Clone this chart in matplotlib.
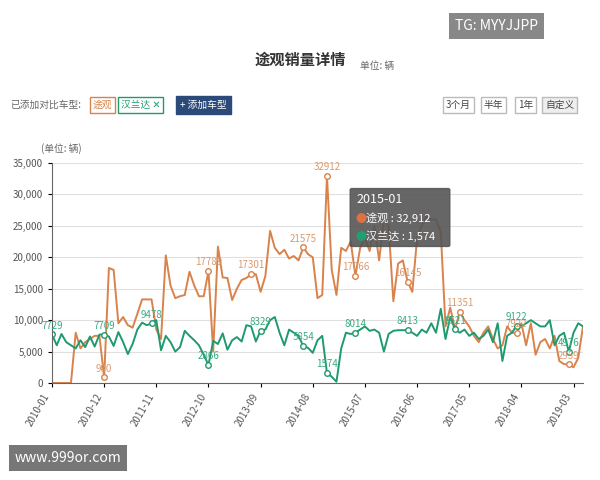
import matplotlib
matplotlib.use("Agg")
import matplotlib.pyplot as plt
import matplotlib.patches as mp
import numpy as np
import pandas as pd

plt.rcParams['font.family'] = ['Noto Sans CJK SC', 'DejaVu Sans']

tiguan = [0, 0, 0, 0, 0, 8000, 5500, 6500, 7000, 7500, 7500, 900,
          18300, 18000, 9500, 10500, 9200, 8800, 11000, 13300, 13300, 13300, 8500, 7000,
          20300, 15500, 13500, 13800, 14000, 17700, 15500, 13800, 13800, 17789, 5000, 21700,
          16800, 16700, 13200, 15000, 16400, 16700, 17301, 17300, 14500, 17000, 24200, 21500,
          20500, 21200, 19800, 20200, 19500, 21575, 20500, 20000, 13500, 14000, 32912, 18000,
          14000, 21500, 21000, 22500, 17066, 21500, 23000, 21000, 25000, 19500, 26000, 25000,
          13000, 19000, 19500, 16145, 14500, 23000, 25000, 26500, 26000, 26000, 24000, 9000,
          12000, 8500, 11351, 10000, 9000, 7500, 6500, 8000, 9000, 7000, 5500, 6000,
          9000, 8000, 7922, 9500, 6000, 9500, 4500, 6500, 7000, 5500, 7500, 3500,
          3000, 2959, 2500, 4000, 9000]
teramont = [7729, 6000, 7800, 6500, 6000, 5500, 6800, 5700, 7400, 5800, 7700, 7709,
            7400, 5900, 8100, 6500, 4600, 6200, 8500, 9600, 9200, 9478, 10000, 5200,
            7500, 6500, 5000, 5700, 8300, 7500, 6800, 6000, 4500, 2866, 6700, 6200,
            7900, 5300, 6800, 7300, 6600, 9200, 9000, 6600, 8329, 8500, 10000, 10500,
            8000, 6000, 8500, 8000, 7500, 5854, 5600, 4800, 6800, 7500, 1574, 1000,
            200, 5500, 8000, 7800, 8014, 8500, 9000, 8300, 8500, 8000, 5000, 7800,
            8300, 8400, 8400, 8413, 8000, 7500, 8500, 8000, 9500, 8000, 11800, 7000,
            10500, 8521, 8000, 8500, 7500, 8000, 7000, 7500, 8500, 6500, 9500, 3500,
            7500, 8000, 9122, 9000, 9500, 10000, 9500, 9000, 9000, 10000, 6000, 7500,
            8000, 4976, 8000, 9500, 9000]
n = min(len(tiguan), len(teramont))
tiguan, teramont = tiguan[:n], teramont[:n]
dates = pd.date_range("2010-01", periods=n, freq="MS")
tick_labels = ["2010-01", "2010-12", "2011-11", "2012-10", "2013-09", "2014-08",
               "2015-07", "2016-06", "2017-05", "2018-04", "2019-03"]
orange_labels = [11, 33, 42, 53, 58, 64, 75, 86, 98, 109]
green_labels = [0, 11, 21, 33, 44, 53, 58, 64, 75, 85, 98, 109]

OR = "#d9824a"
GR = "#1f9a6e"
fig = plt.figure(figsize=(6, 4.8), dpi=100)
ax = fig.add_axes([52/600, 1-383/480, 531/600, 220/480])
x = np.arange(n)
ax.plot(x, tiguan, color=OR, lw=1.4)
ax.plot(x, teramont, color=GR, lw=1.4)
for i in orange_labels:
    ax.plot(i, tiguan[i], 'o', mfc='white', mec=OR, ms=4)
    ax.text(i, tiguan[i] + 600, str(tiguan[i]), color="#d99a70", fontsize=7, ha='center', va='bottom')
for i in green_labels:
    ax.plot(i, teramont[i], 'o', mfc='white', mec=GR, ms=4)
    ax.text(i, teramont[i] + 600, str(teramont[i]), color="#3aab80", fontsize=7, ha='center', va='bottom')
ax.set_xlim(0, n - 1)
ax.set_ylim(0, 35000)
ax.set_yticks(range(0, 35001, 5000))
ax.set_yticklabels([f"{v:,}" for v in range(0, 35001, 5000)], fontsize=7, color="#555")
tick_pos = [list(dates.strftime("%Y-%m")).index(t) for t in tick_labels]
ax.set_xticks(tick_pos)
ax.set_xticklabels(tick_labels, rotation=60, ha='right', fontsize=7, color="#555")
ax.grid(axis='y', color="#e0e0e0")
for s in ['top', 'right']:
    ax.spines[s].set_visible(False)
ax.spines['left'].set_color('#666')
ax.spines['bottom'].set_color('#666')
ax.tick_params(length=3)
ax.set_axisbelow(True)
ax.text(-0.02, 1.05, "(单位: 辆)", transform=ax.transAxes, fontsize=7, color="#666")

# tooltip
fig.patches.append(mp.FancyBboxPatch((352/600, 1-245/480), 96/600, 55/480, boxstyle="round,pad=0.003",
                                     transform=fig.transFigure, fc="#555555", ec="#555555", alpha=0.9))
fig.text(356/600, 1-203/480, "2015-01", color="white", fontsize=9)
fig.text(355/600, 1-222/480, "●", color="#e07040", fontsize=8)
fig.text(366/600, 1-222/480, "途观 : 32,912", color="white", fontsize=8)
fig.text(355/600, 1-240/480, "●", color="#20a070", fontsize=8)
fig.text(366/600, 1-240/480, "汉兰达 : 1,574", color="white", fontsize=8)

fig.text(0.5, 1-65/480, "途观销量详情", fontsize=11, ha='center', weight='bold', color="#333")
fig.text(0.6, 1-69/480, "单位: 辆", fontsize=7, color="#666")
fig.text(10/600, 1-108/480, "已添加对比车型:", fontsize=7, color="#666")
fig.text(93/600, 1-108/480, "途观", fontsize=7, color=OR, bbox=dict(fc='white', ec=OR, pad=2))
fig.text(121/600, 1-108/480, "汉兰达 ✕", fontsize=7, color=GR, bbox=dict(fc='white', ec=GR, pad=2))
fig.text(180/600, 1-108/480, "+ 添加车型", fontsize=7, color="white", bbox=dict(fc='#2b4a7a', ec='#2b4a7a', pad=3))
for lbl, xx in [("3个月", 446), ("半年", 484), ("1年", 518), ("自定义", 545)]:
    fig.text(xx/600, 1-108/480, lbl, fontsize=7, color="#444", bbox=dict(fc='#eeeeee' if lbl == "自定义" else 'white', ec='#bbb', pad=2))
fig.text(455/600, 1-30/480, "TG: MYYJJPP", fontsize=10, color="white", bbox=dict(fc='#888', ec='none', pad=4))
fig.text(15/600, 1-462/480, "www.999or.com", fontsize=10, color="white", bbox=dict(fc='#777', ec='none', pad=4))
fig.savefig("out.png", dpi=100)
